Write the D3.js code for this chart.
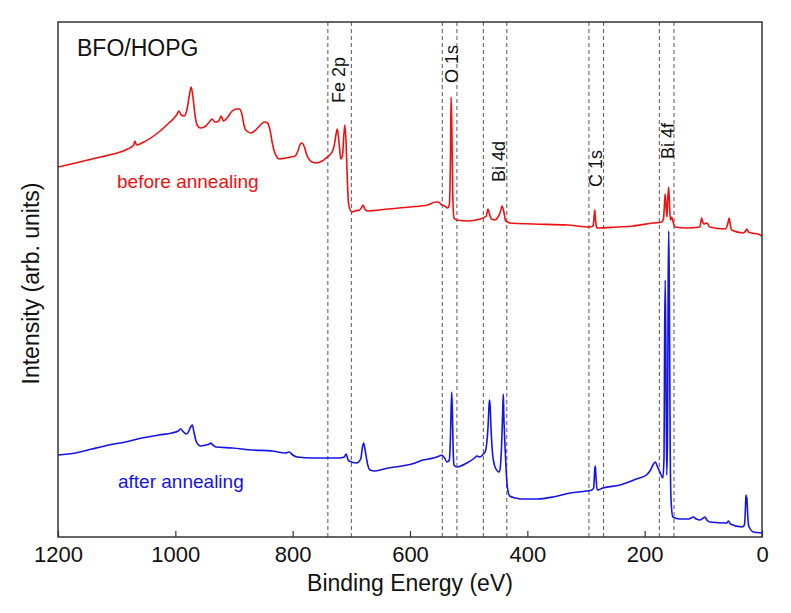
<!DOCTYPE html>
<html>
<head>
<meta charset="utf-8">
<script src="https://cdn.jsdelivr.net/npm/d3@7"></script>
<style>
  html, body { margin: 0; padding: 0; background: #fff; }
  svg { display: block; font-family: "Liberation Sans", Arial, sans-serif; }
</style>
</head>
<body>
<svg id="chart" width="791" height="613"></svg>
<script>
// ---- data (binding energy in eV, intensity in arbitrary units) ----
const xTicks = [1200, 1000, 800, 600, 400, 200, 0];

const beforeAnnealing = [
  [1200, 370], [1170, 374], [1142, 378], [1113, 382], [1085, 387], [1071, 392], [1069, 396], [1066, 392],
  [1057, 394], [1028, 405], [1011, 414], [1002, 419], [997, 423], [994, 426], [990, 422], [985, 421],
  [980, 428], [976, 442], [973, 450], [970, 440], [966, 420], [962, 411], [957, 409], [948, 411],
  [942, 415], [937, 418], [933, 415], [929, 415], [925, 417], [922, 421], [918, 416], [912, 419],
  [903, 426], [896, 428], [891, 428], [887, 424], [883, 412], [880, 407], [871, 404], [863, 407],
  [855, 412], [848, 415], [843, 414], [839, 408], [835, 395], [832, 387], [827, 380], [823, 378],
  [811, 379], [803, 380], [796, 381], [791, 386], [787, 393], [784, 394], [780, 390], [776, 382],
  [771, 377], [767, 375], [759, 374], [750, 376], [743, 379], [737, 382], [732, 386], [729, 392],
  [726, 403], [724, 408], [721, 395], [718, 378], [715, 382], [713, 400], [711, 412], [709, 395],
  [707, 360], [705, 335], [702, 327], [699, 325], [694, 326], [686, 327], [682, 330], [680, 332],
  [677, 328], [672, 326], [637, 328], [600, 330], [570, 332], [556, 335], [552, 335], [546, 332],
  [541, 331], [536, 329], [533, 332], [531, 380], [530, 440], [529, 420], [527, 340], [525, 319],
  [520, 317], [503, 316], [480, 318], [470, 321], [467, 328], [465, 324], [461, 318], [455, 317],
  [450, 320], [446, 325], [443, 331], [440, 325], [437, 316], [434, 315], [430, 314], [390, 313],
  [332, 312], [293, 310], [288, 311], [286, 322], [285, 327], [284, 318], [282, 310], [281, 309],
  [248, 310], [220, 311], [186, 314], [171, 315], [168, 318], [166, 335], [165, 343], [163.5, 330],
  [162, 320], [160.5, 340], [159, 350], [157.5, 330], [156, 317], [154, 320], [152, 316], [148, 310],
  [128, 309], [106, 310], [104, 316], [103, 319], [101, 315], [99, 313], [94, 314], [89, 310],
  [63, 308], [58, 314], [56, 319], [54, 312], [52, 307], [32, 304], [28, 306], [26, 308],
  [23, 305], [18, 304], [7, 303], [0, 301]
];

const afterAnnealing = [
  [1200, 82], [1170, 84], [1142, 88], [1113, 92], [1085, 95], [1057, 99], [1028, 102], [1006, 104],
  [995, 106], [991, 108], [986, 105], [981, 103], [977, 106], [974, 110], [971, 112], [968, 104],
  [964, 95], [957, 91], [948, 92], [942, 93], [940, 94], [936, 92], [931, 90], [903, 89],
  [869, 87], [835, 86], [812, 84], [806, 85], [800, 82], [792, 80], [767, 79], [744, 79],
  [721, 79], [712, 80], [709, 83], [706, 78], [704, 76], [691, 74], [684, 78], [681, 90],
  [679, 94], [676, 85], [672, 72], [668, 67], [660, 66], [637, 69], [614, 71], [591, 74],
  [583, 76], [560, 79], [550, 81], [546, 82], [541, 79], [537, 75], [533, 77], [531, 100],
  [529, 145], [528, 130], [526, 80], [525, 72], [520, 70], [503, 74], [490, 79], [486, 81],
  [481, 80], [475, 83], [472, 85], [469, 95], [467, 110], [465, 134], [464, 137], [462, 110],
  [460, 88], [457, 74], [455, 70], [448, 65], [446, 70], [444, 90], [442, 125], [441, 143],
  [440, 120], [438, 90], [436, 65], [434, 50], [430, 41], [420, 39], [412, 38], [384, 38],
  [356, 40], [327, 44], [299, 46], [290, 47], [287, 49], [285, 68], [284, 71], [283, 60],
  [281, 47], [271, 49], [242, 52], [214, 58], [197, 62], [190, 67], [185, 73], [182, 75],
  [178, 70], [174, 65], [169, 59], [167, 80], [166, 200], [165, 257], [164, 200], [162.5, 62],
  [161, 100], [160, 250], [159, 306], [158, 250], [156.5, 90], [155, 37], [152, 20], [140, 18],
  [125, 18], [117, 20], [112, 18], [106, 17], [100, 19], [97, 20], [94, 17], [89, 15],
  [60, 14], [57, 16], [54, 13], [34, 10], [30, 12], [28.5, 25], [27.5, 40], [27, 42],
  [26.3, 34], [25.7, 40], [25, 30], [23, 12], [21, 9], [15, 5], [0, 4]
];

// core-level regions marked by dashed lines (eV) and their labels
const regionNames = ["Fe 2p", "O 1s", "Bi 4d", "C 1s", "Bi 4f"];
const regionHigh  = [740, 545, 475, 295, 175];
const regionLow   = [700, 520, 435, 270, 150];
const labelE      = [711, 518, 438, 273, 150];
const labelI      = [434, 454, 355, 350, 378];

// ---- layout ----
const W = 791, H = 613;
const margin = { left: 58, right: 29, top: 22, bottom: 76 };
const svg = d3.select("#chart");

const x = d3.scaleLinear().domain([1200, 0]).range([margin.left, W - margin.right]);
const y = d3.scaleLinear().domain([0, 515]).range([H - margin.bottom, margin.top]);

const red = "#ee1111", blue = "#1414e6";

// dashed region lines
const dashes = [...regionHigh, ...regionLow];
svg.append("g").selectAll("line").data(dashes).join("line")
  .attr("x1", d => x(d)).attr("x2", d => x(d))
  .attr("y1", y(515)).attr("y2", y(0))
  .attr("stroke", "#555").attr("stroke-width", 1).attr("stroke-dasharray", "4,3");

// spectra
const line = d3.line().x(d => x(d[0])).y(d => y(d[1])).curve(d3.curveMonotoneX);
svg.append("path").datum(beforeAnnealing).attr("d", line)
  .attr("fill", "none").attr("stroke", red).attr("stroke-width", 1.6).attr("stroke-linejoin", "round");
svg.append("path").datum(afterAnnealing).attr("d", line)
  .attr("fill", "none").attr("stroke", blue).attr("stroke-width", 1.6).attr("stroke-linejoin", "round");

// frame
svg.append("rect")
  .attr("x", x(1200)).attr("y", y(515))
  .attr("width", x(0) - x(1200)).attr("height", y(0) - y(515))
  .attr("fill", "none").attr("stroke", "#333").attr("stroke-width", 1.5);

// bottom axis
const ax = svg.append("g").attr("transform", `translate(0,${y(0)})`)
  .call(d3.axisBottom(x).tickValues(xTicks).tickFormat(d3.format("d"))
        .tickSizeInner(-6).tickSizeOuter(0).tickPadding(9));
ax.select(".domain").remove();
ax.selectAll(".tick line").attr("stroke", "#333").attr("stroke-width", 1.2);
ax.selectAll(".tick text").attr("font-size", 22).attr("fill", "#111")
  .attr("font-family", "Liberation Sans, Arial, sans-serif");

// axis titles
svg.append("text").attr("x", (x(1200) + x(0)) / 2).attr("y", 591)
  .attr("text-anchor", "middle").attr("font-size", 23).attr("fill", "#111")
  .text("Binding Energy (eV)");
svg.append("text")
  .attr("transform", `translate(39,${(y(0) + y(515)) / 2 + 4}) rotate(-90)`)
  .attr("text-anchor", "middle").attr("font-size", 23).attr("fill", "#111")
  .text("Intensity (arb. units)");

// region labels
svg.append("g").selectAll("text").data(regionNames).join("text")
  .attr("transform", (d, i) => `translate(${x(labelE[i])},${y(labelI[i])}) rotate(-90)`)
  .attr("font-size", 18).attr("fill", "#111")
  .text(d => d);

// annotations
svg.append("text").attr("x", 77).attr("y", 56).attr("font-size", 23).attr("fill", "#111").text("BFO/HOPG");
svg.append("text").attr("x", 117).attr("y", 188).attr("font-size", 19).attr("fill", red).text("before annealing");
svg.append("text").attr("x", 118).attr("y", 488).attr("font-size", 19).attr("fill", blue).text("after annealing");
</script>
</body>
</html>
